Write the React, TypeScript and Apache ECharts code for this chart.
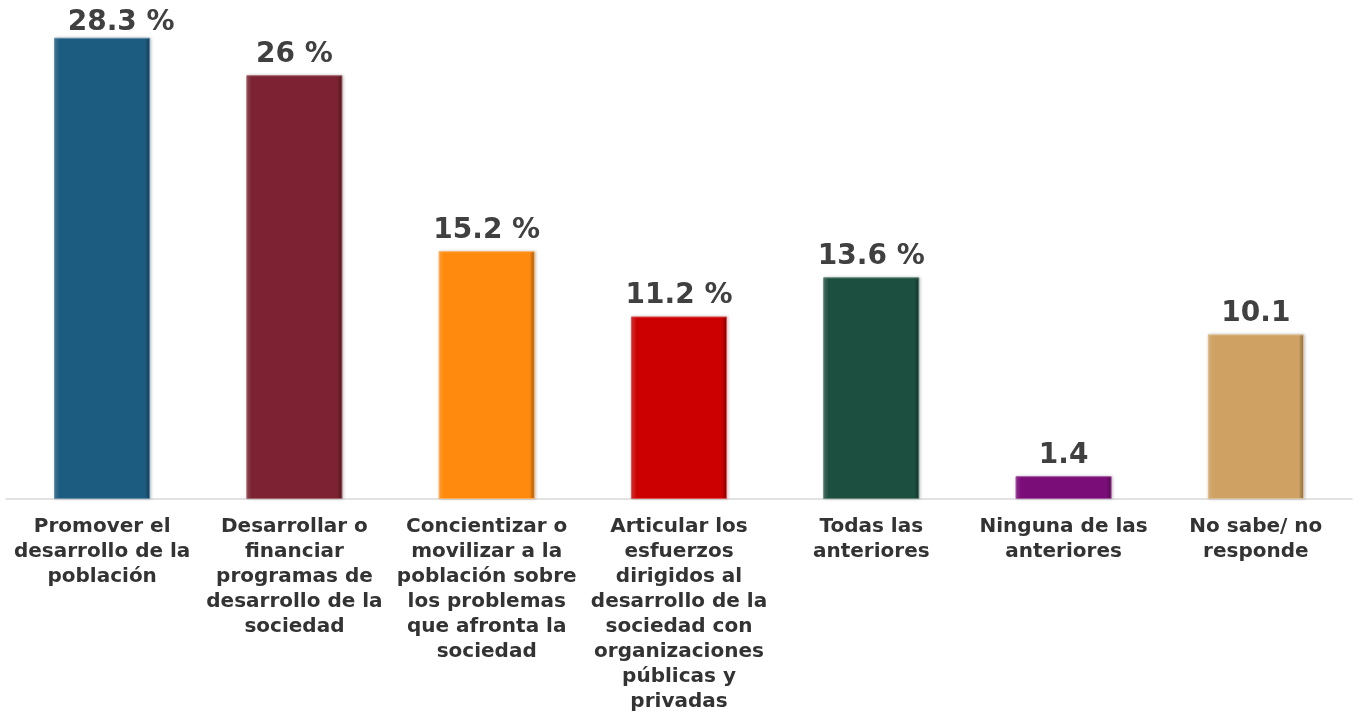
import React, { useEffect, useRef } from "react";
import * as echarts from "echarts";

const categories = [
  "Promover el\ndesarrollo de la\npoblación",
  "Desarrollar o\nfinanciar\nprogramas de\ndesarrollo de la\nsociedad",
  "Concientizar o\nmovilizar a la\npoblación sobre\nlos problemas\nque afronta la\nsociedad",
  "Articular los\nesfuerzos\ndirigidos al\ndesarrollo de la\nsociedad con\norganizaciones\npúblicas y\nprivadas",
  "Todas las\nanteriores",
  "Ninguna de las\nanteriores",
  "No sabe/ no\nresponde",
];
const values = [28.3, 26, 15.2, 11.2, 13.6, 1.4, 10.1];
const valueLabels = ["28.3 %", "26 %", "15.2 %", "11.2 %", "13.6 %", "1.4", "10.1"];
const colors = ["#1F5C80", "#7B2430", "#FF8A0E", "#CC0606", "#1E5040", "#7A0A78", "#CFA264"];

function shade(hex: string, f: number) {
  const n = parseInt(hex.slice(1), 16);
  const r = (n >> 16) & 255, g = (n >> 8) & 255, b = n & 255;
  const adj = (c: number) =>
    Math.max(0, Math.min(255, Math.round(f >= 0 ? c + (255 - c) * f : c * (1 + f))));
  return `rgb(${adj(r)},${adj(g)},${adj(b)})`;
}

export default function App() {
  const ref = useRef<HTMLDivElement>(null);
  useEffect(() => {
    const chart = echarts.init(ref.current!, null, { renderer: "svg" });
    chart.setOption({
      animation: false,
      grid: { left: 6, right: 9, top: 10, bottom: 218, outerBoundsMode: "none", containLabel: false },
      xAxis: {
        type: "category",
        data: categories,
        axisLine: { lineStyle: { color: "#d9d9d9", width: 1.5 } },
        axisTick: { show: false },
        axisLabel: {
          interval: 0,
          margin: 13,
          color: "#333333",
          fontFamily: "DejaVu Sans, Verdana, sans-serif",
          fontWeight: "bold",
          fontSize: 20,
          lineHeight: 25,
          align: "center",
        },
      },
      yAxis: { type: "value", min: 0, max: 30, show: false, splitLine: { show: false } },
      series: [
        {
          type: "bar",
          barWidth: "50%",
          data: values.map((v, i) => ({
            value: v,
            itemStyle: {
              color: new echarts.graphic.LinearGradient(1, 0, 0, 0, [
                { offset: 0, color: shade(colors[i], -0.35) },
                { offset: 0.05, color: colors[i] },
                { offset: 0.95, color: colors[i] },
                { offset: 1, color: shade(colors[i], 0.15) },
              ]),
              borderColor: shade(colors[i], 0.3),
              borderWidth: 1,
              shadowColor: "rgba(0,0,0,0.25)",
              shadowBlur: 3,
              shadowOffsetX: 1,
              shadowOffsetY: 0,
            },
            label: i === 0 ? { offset: [19, 6] } : undefined,
          })),
          label: {
            show: true,
            position: "top",
            distance: 9,
            formatter: (p: any) => valueLabels[p.dataIndex],
            color: "#404040",
            fontFamily: "DejaVu Sans, Verdana, sans-serif",
            fontWeight: "bold",
            fontSize: 28,
          },
        },
      ],
    });
    return () => chart.dispose();
  }, []);
  return (
    <div
      ref={ref}
      style={{ position: "fixed", left: 0, top: 0, width: 1361, height: 717 }}
    />
  );
}
